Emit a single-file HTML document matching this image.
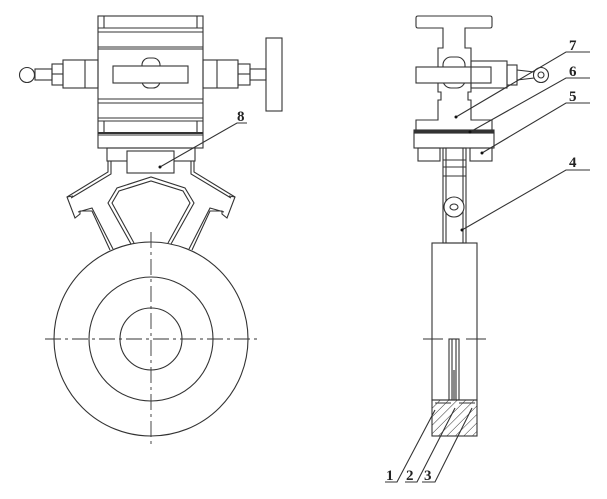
<!DOCTYPE html>
<html><head><meta charset="utf-8"><style>
html,body{margin:0;padding:0;background:#fff;}
svg{display:block;}
text{font-family:"Liberation Serif",serif;font-weight:bold;font-size:15px;fill:#222;}
</style></head><body>
<svg width="607" height="499" viewBox="0 0 607 499" xmlns="http://www.w3.org/2000/svg">
<defs>
<pattern id="h" width="6" height="6" patternUnits="userSpaceOnUse" patternTransform="rotate(45)">
<line x1="0" y1="0" x2="0" y2="6" stroke="#333" stroke-width="1"/>
</pattern>
</defs>
<g fill="none" stroke="#333" stroke-width="1.1">
<!-- LEFT VIEW -->
<rect x="98" y="16" width="105" height="132"/>
<line x1="98" y1="28" x2="203" y2="28"/><line x1="98" y1="32" x2="203" y2="32"/>
<line x1="98" y1="47" x2="203" y2="47"/><line x1="98" y1="49" x2="203" y2="49"/>
<line x1="98" y1="99" x2="203" y2="99"/><line x1="98" y1="103" x2="203" y2="103"/>
<line x1="98" y1="118" x2="203" y2="118"/><line x1="98" y1="121" x2="203" y2="121"/>
<line x1="98" y1="133" x2="203" y2="133" stroke-width="2"/><line x1="98" y1="135" x2="203" y2="135"/>
<line x1="104" y1="16" x2="104" y2="28"/><line x1="197" y1="16" x2="197" y2="28"/>
<line x1="104" y1="121" x2="104" y2="133"/><line x1="197" y1="121" x2="197" y2="133"/>
<rect x="142" y="58" width="18" height="30" rx="7"/>
<rect x="113" y="66" width="75" height="17" fill="#fff"/>
<rect x="63" y="60" width="35" height="28"/><line x1="85" y1="60" x2="85" y2="88"/>
<rect x="52" y="64" width="11" height="21"/><line x1="52" y1="74" x2="63" y2="74"/>
<rect x="35" y="69" width="17" height="11"/>
<circle cx="27" cy="75" r="7.5" fill="#fff"/>
<rect x="203" y="60" width="35" height="28"/><line x1="217" y1="60" x2="217" y2="88"/>
<rect x="238" y="64" width="12" height="21"/><line x1="238" y1="74" x2="250" y2="74"/>
<rect x="250" y="69" width="16" height="11"/>
<rect x="266" y="38" width="16" height="73"/>
<rect x="107" y="148" width="88" height="13"/>
<rect x="127" y="151" width="47" height="22" fill="#fff"/>
<!-- arms -->
<path d="M108 161 L108 172 L67 197 L75 218 L80 214 L80 211 L92 211 L110 250"/>
<path d="M111 161 L111 174 L71 198 M78 212 L92 208 L113 249"/>
<path d="M194 161 L194 172 L235 197 L227 218 L222 214 L222 211 L210 211 L192 250"/>
<path d="M191 161 L191 174 L231 198 M224 212 L210 208 L189 249"/>
<line x1="67" y1="197" x2="73" y2="196"/><line x1="235" y1="197" x2="229" y2="196"/>
<path d="M131 244 L108 203 L117 188 L151 177 L185 188 L194 203 L171 244"/>
<path d="M134 243 L112 203 L119 191 L151 181 L183 191 L190 203 L168 243"/>
<!-- circles -->
<circle cx="151" cy="339" r="97" fill="#fff"/>
<circle cx="151" cy="339" r="62"/>
<circle cx="151" cy="339" r="31"/>
<line x1="45" y1="339" x2="258" y2="339" stroke-dasharray="16,4,3,4" stroke-width="0.9"/>
<line x1="151" y1="232" x2="151" y2="446" stroke-dasharray="16,4,3,4" stroke-width="0.9"/>
<!-- label 8 -->
<path d="M247 123 L237 123 L160 167"/>
<!-- RIGHT VIEW -->
<path d="M418 16 H490 Q492 16 492 18 V26 Q492 28 490 28 H465 V48 H471 V92 H468 V100 H471 V120 H492 V130 H416 V120 H438 V100 H441 V92 H438 V48 H443 V28 H418 Q416 28 416 26 V18 Q416 16 418 16 Z"/>
<rect x="443" y="57" width="22" height="31" rx="8"/>
<rect x="416" y="67" width="75" height="16" fill="#fff"/>
<rect x="471" y="61" width="36" height="27"/>
<rect x="507" y="65" width="10" height="20"/>
<path d="M517 70 L534 72 L534 78 L517 80"/>
<circle cx="541" cy="75" r="7.5" fill="#fff"/><circle cx="541" cy="75" r="3"/>
<rect x="414" y="130" width="80" height="3" fill="#333"/>
<rect x="414" y="133" width="80" height="15"/>
<rect x="418" y="148" width="22" height="13"/><rect x="470" y="148" width="22" height="13"/>
<rect x="443" y="148" width="23" height="95"/>
<line x1="446" y1="148" x2="446" y2="243"/><line x1="463" y1="148" x2="463" y2="243"/>
<line x1="443" y1="160" x2="466" y2="160"/><line x1="443" y1="167" x2="466" y2="167"/><line x1="443" y1="176" x2="466" y2="176"/>
<circle cx="454" cy="207" r="10" fill="#fff"/><ellipse cx="454" cy="207" rx="4" ry="3"/>
<rect x="432" y="243" width="45" height="157"/>
<line x1="423" y1="339" x2="443" y2="339"/><line x1="466" y1="339" x2="486" y2="339"/>
<rect x="449" y="339" width="10" height="61"/>
<line x1="452" y1="339" x2="452" y2="400"/><line x1="456" y1="339" x2="456" y2="400"/>
<rect x="452" y="370" width="4" height="30" fill="#888" stroke="none"/>
<rect x="432" y="400" width="45" height="36" fill="url(#h)"/>
<path d="M435 403 H451 M459 403 H475" stroke-width="1"/>
<!-- leaders right -->
<path d="M590 52 L566 52 L456 117"/>
<path d="M590 78 L566 78 L470 132"/>
<path d="M590 103 L566 103 L482 153"/>
<path d="M590 170 L566 170 L462 230"/>
<path d="M385 482 L397 482 L435 410"/>
<path d="M405 482 L417 482 L455 408"/>
<path d="M422 482 L435 482 L472 408"/>
</g>
<g fill="#111">
<circle cx="160" cy="167" r="1.5"/><circle cx="456" cy="117" r="1.5"/><circle cx="470" cy="132" r="1.5"/>
<circle cx="482" cy="153" r="1.5"/><circle cx="462" cy="230" r="1.5"/>
</g>
<text x="237" y="121">8</text>
<text x="569" y="50">7</text>
<text x="569" y="76">6</text>
<text x="569" y="101">5</text>
<text x="569" y="167">4</text>
<text x="386" y="480">1</text>
<text x="406" y="480">2</text>
<text x="424" y="480">3</text>
</svg>
</body></html>
